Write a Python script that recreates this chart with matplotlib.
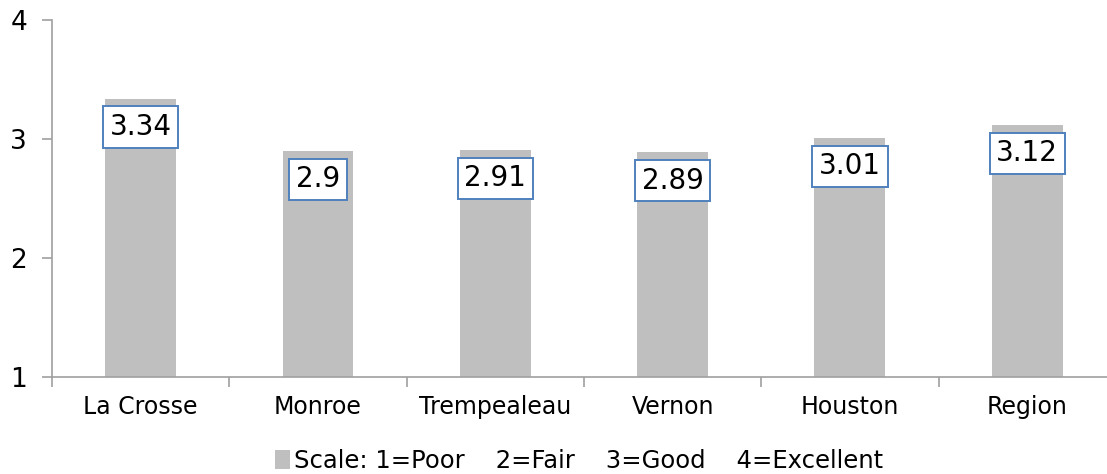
import matplotlib.pyplot as plt
import numpy as np

# data
categories = ['La Crosse', 'Monroe', 'Trempealeau', 'Vernon', 'Houston', 'Region']
values = [3.34, 2.9, 2.91, 2.89, 3.01, 3.12]
value_labels = ['3.34', '2.9', '2.91', '2.89', '3.01', '3.12']
legend_label = 'Scale: 1=Poor    2=Fair    3=Good    4=Excellent'

plt.rcParams['font.family'] = ['DejaVu Sans']

fig = plt.figure(figsize=(11.07, 4.74), dpi=100)
ax = fig.add_axes([0.047, 0.2046, 0.961, 0.7532])

x = np.arange(len(categories))
# bars start from the axis minimum (1)
bars = ax.bar(x, np.array(values) - 1, bottom=1, width=0.4, color='#BFBFBF',
              label=legend_label, zorder=2)

# value labels in boxes, just below the top of each bar
for xi, v, lab in zip(x, values, value_labels):
    ax.annotate(lab, xy=(xi, v), xytext=(0, -20.5), textcoords='offset points',
                ha='center', va='center', fontsize=20, color='black', zorder=3,
                bbox=dict(boxstyle='square,pad=0.24', fc='white', ec='#4F81BD', lw=1.4))

ax.set_xlim(-0.5, len(categories) - 0.5)
ax.set_ylim(1, 4)
ax.set_yticks([1, 2, 3, 4])
ax.set_yticklabels(['1', '2', '3', '4'], fontsize=19)

ax.set_xticks(x)
ax.set_xticklabels(categories, fontsize=17)
ax.tick_params(axis='x', length=0, pad=13)
# tick marks between categories
ax.set_xticks(np.arange(len(categories) + 1) - 0.5, minor=True)
ax.tick_params(axis='x', which='minor', length=7, color='#A0A0A0', width=1.2, direction='out')
ax.tick_params(axis='y', length=7, color='#A0A0A0', width=1.2, direction='out', pad=11)

for side in ['top', 'right']:
    ax.spines[side].set_visible(False)
for side in ['left', 'bottom']:
    ax.spines[side].set_color('#A0A0A0')
    ax.spines[side].set_linewidth(1.2)

fig.legend(loc='center', bbox_to_anchor=(0.523, 0.027), frameon=False, fontsize=17.5,
           handlelength=0.6, handleheight=0.8, handletextpad=0.15)

plt.savefig('out.png', dpi=100)
